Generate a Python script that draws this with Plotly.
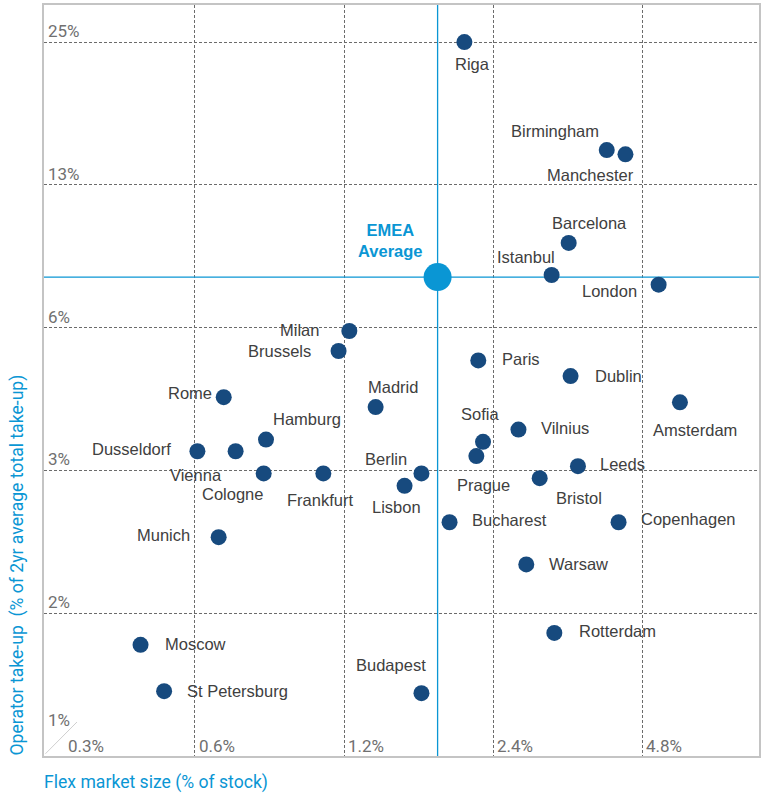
import math
import plotly.graph_objects as go

# ---------------- data ----------------
cities = ["Riga", "Birmingham", "Manchester", "Barcelona", "Istanbul", "London",
          "Milan", "Brussels", "Paris", "Madrid", "Dublin", "Amsterdam",
          "Vilnius", "Leeds", "Bristol", "Copenhagen", "Sofia", "Prague",
          "Hamburg", "Cologne", "Frankfurt", "Berlin", "Lisbon", "Bucharest",
          "Rome", "Dusseldorf", "Vienna", "Munich", "Moscow", "St Petersburg",
          "Budapest", "Warsaw", "Rotterdam"]
flex_market_size = [2.10, 4.07, 4.44, 3.41, 3.15, 5.18,
                    1.23, 1.17, 2.24, 1.39, 3.44, 5.72,
                    2.70, 3.56, 2.98, 4.30, 2.29, 2.22,
                    0.835, 0.826, 1.09, 1.72, 1.59, 1.96,
                    0.686, 0.607, 0.725, 0.670, 0.466, 0.520,
                    1.72, 2.80, 3.19]
operator_takeup = [25.0, 14.8, 14.5, 9.43, 8.07, 7.70,
                   6.15, 5.58, 5.33, 4.25, 4.94, 4.35,
                   3.81, 3.19, 3.01, 2.43, 3.59, 3.35,
                   3.63, 3.08, 3.08, 3.08, 2.90, 2.43,
                   4.46, 3.43, 3.43, 2.26, 1.34, 1.07,
                   1.06, 1.98, 1.42]

emea_label = "EMEA<br>Average"
emea_flex_size = 1.854
emea_takeup = 7.99

xtick_vals = [0.3, 0.6, 1.2, 2.4, 4.8]
xtick_text = ["0.3%", "0.6%", "1.2%", "2.4%", "4.8%"]
ytick_vals = [25, 12.5, 6.25, 3.125, 1.5625, 0.78125]
ytick_text = ["25%", "13%", "6%", "3%", "2%", "1%"]

x_title = "Flex market size (% of stock)"
y_title = "Operator take-up  (% of 2yr average total take-up)"

# ---------------- layout helpers (pixel offsets of labels) ----------------
label_offsets = {
    "Riga": (8, 22), "Birmingham": (-52, -19), "Manchester": (-35, 21),
    "Barcelona": (21, -20), "Istanbul": (-26, -18), "London": (-49, 6),
    "Milan": (-50, -1), "Brussels": (-59, 0), "Paris": (43, -1),
    "Madrid": (17, -20), "Dublin": (48, 0), "Amsterdam": (15, 28),
    "Vilnius": (47, -2), "Leeds": (45, -2), "Bristol": (39, 20),
    "Copenhagen": (70, -3), "Sofia": (-3, -28), "Prague": (7, 29),
    "Hamburg": (41, -21), "Cologne": (-31, 21), "Frankfurt": (-3, 27),
    "Berlin": (-35, -14), "Lisbon": (-8, 21), "Bucharest": (60, -2),
    "Rome": (-34, -4), "Dusseldorf": (-66, -2), "Vienna": (-40, 24),
    "Munich": (-55, -2), "Moscow": (55, -1), "St Petersburg": (73, 0),
    "Budapest": (-30, -28), "Warsaw": (52, 0), "Rotterdam": (63, -2),
}

NAVY = "#174a7e"
BLUE = "#0a96d4"
LABEL = "#404040"
TICK = "#707070"

x_range = [math.log10(0.2975), math.log10(8.26)]
y_range = [math.log10(0.78125), math.log10(29.93)]

fig = go.Figure()

# average reference lines
fig.add_trace(go.Scatter(x=[emea_flex_size, emea_flex_size],
                         y=[10 ** y_range[0], 10 ** y_range[1]],
                         mode="lines", line=dict(color=BLUE, width=1.3),
                         hoverinfo="skip"))
fig.add_trace(go.Scatter(x=[10 ** x_range[0], 10 ** x_range[1]],
                         y=[emea_takeup, emea_takeup],
                         mode="lines", line=dict(color=BLUE, width=1.3),
                         hoverinfo="skip"))

# city markers
fig.add_trace(go.Scatter(x=flex_market_size, y=operator_takeup, mode="markers",
                         marker=dict(size=16, color=NAVY, line=dict(width=0)),
                         text=cities, hoverinfo="text"))
# EMEA average marker
fig.add_trace(go.Scatter(x=[emea_flex_size], y=[emea_takeup], mode="markers",
                         marker=dict(size=28, color=BLUE, line=dict(width=0)),
                         hoverinfo="skip"))

annotations = []
for name, fx, ty in zip(cities, flex_market_size, operator_takeup):
    dx, dy = label_offsets[name]
    annotations.append(dict(x=math.log10(fx), y=math.log10(ty), xref="x", yref="y",
                            text=name, showarrow=False, xanchor="center", yanchor="middle",
                            xshift=dx, yshift=-dy,
                            font=dict(family="Liberation Sans, Arial", size=16.5, color=LABEL)))

annotations.append(dict(x=math.log10(emea_flex_size), y=math.log10(emea_takeup), xref="x", yref="y",
                        text="<b>" + emea_label.replace("<br>", "</b><br><b>") + "</b>",
                        showarrow=False, xanchor="center", yanchor="middle",
                        xshift=-47, yshift=37,
                        font=dict(family="Liberation Sans, Arial", size=16.5, color=BLUE)))

# y tick labels (inside, above gridline)
for i, (v, t) in enumerate(zip(ytick_vals, ytick_text)):
    corner = (i == len(ytick_vals) - 1)
    annotations.append(dict(x=0, xref="paper", y=math.log10(v), yref="y", text=t,
                            showarrow=False, xanchor="left", yanchor="middle",
                            xshift=2, yshift=36 if corner else 11,
                            font=dict(family="Roboto", size=17, color=TICK)))
# x tick labels (inside, right of gridline)
for i, (v, t) in enumerate(zip(xtick_vals, xtick_text)):
    corner = (i == 0)
    annotations.append(dict(x=math.log10(v), xref="x", y=0, yref="paper", text=t,
                            showarrow=False, xanchor="left", yanchor="middle",
                            xshift=20 if corner else 2, yshift=10,
                            font=dict(family="Roboto", size=17, color=TICK)))

# axis titles
annotations.append(dict(x=0, xref="paper", y=0, yref="paper", text=x_title,
                        showarrow=False, xanchor="left", yanchor="middle",
                        xshift=-2, yshift=-26,
                        font=dict(family="Roboto", size=17.6, color=BLUE)))
annotations.append(dict(x=0, xref="paper", y=0, yref="paper", text=y_title,
                        showarrow=False, xanchor="center", yanchor="bottom",
                        textangle=-90, xshift=-27, yshift=-2,
                        font=dict(family="Roboto", size=17.6, color=BLUE)))

fig.update_layout(
    width=770, height=796,
    margin=dict(l=44, r=11, t=5, b=40, autoexpand=False),
    paper_bgcolor="white", plot_bgcolor="white",
    showlegend=False,
    annotations=annotations,
    shapes=[dict(type="line", xref="paper", yref="paper",
                 x0=0.002, y0=0.003, x1=33 / 715.5, y1=34 / 751,
                 line=dict(color="#d0d0d0", width=1))],
    xaxis=dict(type="log", range=x_range, tickvals=xtick_vals[1:],
               showticklabels=False, ticks="", automargin=False,
               showgrid=True, gridcolor="#6b6b6b", gridwidth=1, griddash="3px,2px",
               showline=True, mirror=True, linecolor="#c4c4c4", linewidth=2,
               zeroline=False, fixedrange=True),
    yaxis=dict(type="log", range=y_range, tickvals=ytick_vals[:-1],
               showticklabels=False, ticks="", automargin=False,
               showgrid=True, gridcolor="#6b6b6b", gridwidth=1, griddash="3px,2px",
               showline=True, mirror=True, linecolor="#c4c4c4", linewidth=2,
               zeroline=False, fixedrange=True),
)

fig.write_html("out.html", config={"displayModeBar": False},
               post_script="document.body.style.margin='0';document.body.style.overflow='hidden';")
